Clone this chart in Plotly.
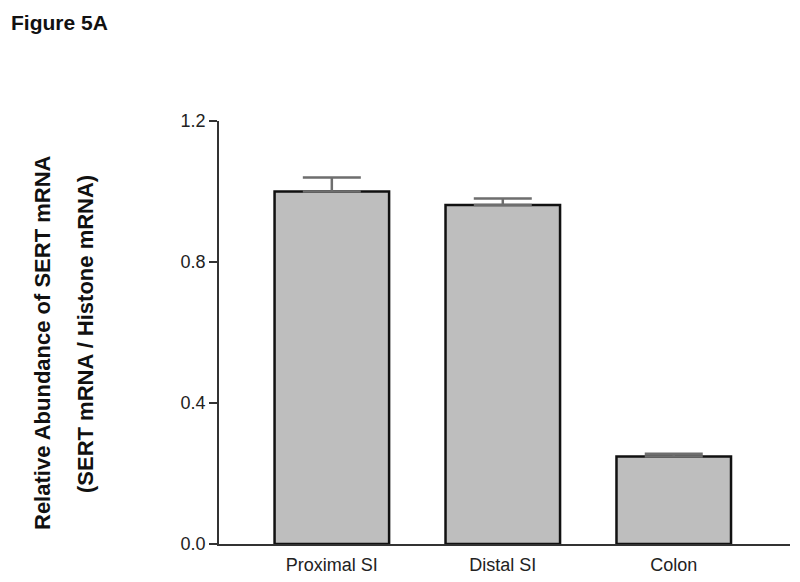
import plotly.graph_objects as go

categories = ["Proximal SI", "Distal SI", "Colon"]
values = [1.0, 0.962, 0.248]
errors = [0.04, 0.018, 0.008]
y_ticks = [0.0, 0.4, 0.8, 1.2]
y_tick_labels = ["0.0", "0.4", "0.8", "1.2"]

font_family = "Liberation Sans, Arial, sans-serif"

# page body has an 8px default margin, so the figure is offset by 8px
fig = go.Figure()
fig.add_trace(go.Bar(
    x=[0, 1, 2],
    y=values,
    width=0.67,
    marker=dict(color="#bebebe", line=dict(color="#111", width=2.5)),
    error_y=dict(type="data", array=errors, arrayminus=[0, 0, 0], symmetric=False,
                 color="#6e6e6e", thickness=2.5, width=29),
))

PW, PH = 571, 423
fig.update_layout(
    width=792, height=574,
    margin=dict(l=211, r=10, t=113, b=38),
    plot_bgcolor="white", paper_bgcolor="white",
    showlegend=False,
    font=dict(family=font_family, color="#222"),
    xaxis=dict(
        range=[-0.66, 2.68],
        tickvals=[0, 1, 2], ticktext=categories,
        showline=True, linecolor="#333", linewidth=1.5,
        ticks="", showgrid=False, zeroline=False,
        ticklabelstandoff=4, automargin=False,
        tickfont=dict(size=18, color="#222"),
    ),
    yaxis=dict(
        range=[0, 1.2],
        tickvals=y_ticks, ticktext=y_tick_labels,
        showline=True, linecolor="#333", linewidth=1.5,
        ticks="outside", ticklen=8, tickwidth=1.5, tickcolor="#333",
        showgrid=False, zeroline=False, automargin=False,
        tickfont=dict(size=18, color="#222"),
    ),
    annotations=[
        dict(text="<b>Figure 5A</b>", xref="paper", yref="paper", x=-210/PW, y=1 + 112/PH,
             xanchor="left", yanchor="top", showarrow=False,
             font=dict(size=21, color="#111")),
        dict(text="<b>Relative Abundance of SERT mRNA</b>", xref="paper", yref="paper",
             x=-(219-42)/PW, y=(544-343)/PH, xanchor="center", yanchor="middle",
             textangle=-90, showarrow=False, font=dict(size=22, color="#111")),
        dict(text="<b>(SERT mRNA / Histone mRNA)</b>", xref="paper", yref="paper",
             x=-(219-85)/PW, y=(544-334)/PH, xanchor="center", yanchor="middle",
             textangle=-90, showarrow=False, font=dict(size=22, color="#111")),
    ],
)

fig.write_html("out.html")
